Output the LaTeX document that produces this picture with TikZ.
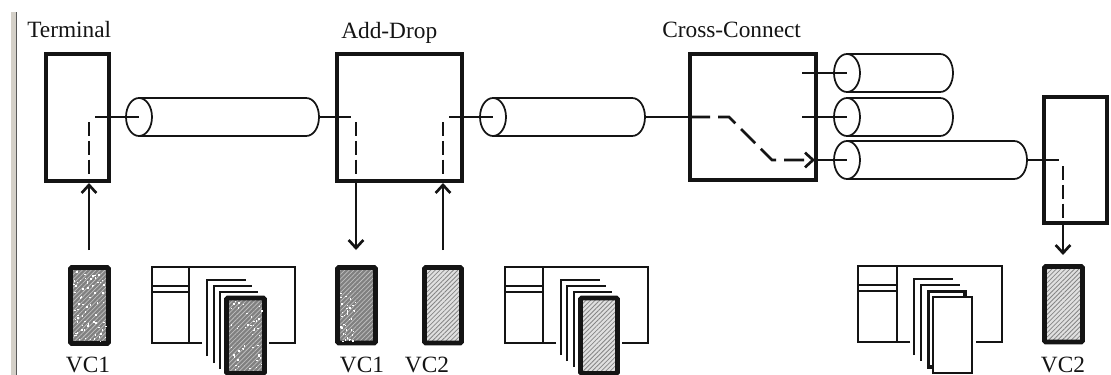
\documentclass[tikz,border=0pt]{standalone}
\usepackage{fontspec}
\setmainfont{Liberation Serif}
\usetikzlibrary{arrows.meta,patterns.meta}
\definecolor{barcol}{HTML}{D4D0C8}
\definecolor{inkcol}{HTML}{141414}
\tikzset{
  px/.style={x=0.75pt,y=-0.75pt},
  heavy/.style={draw=inkcol,line width=2.5pt,inner sep=0pt,outer sep=0pt,fill=white},
  wire/.style={draw=inkcol,line width=1.3pt},
  dashwire/.style={draw=inkcol,line width=1.4pt,dash pattern=on 10.5pt off 3.6pt},
  crossdash/.style={draw=inkcol,line width=1.9pt,dash pattern=on 15pt off 6pt},
  tip/.style={-{Straight Barb[length=6pt,width=11pt,line width=2pt]}},
  lbl/.style={anchor=base,inner sep=0pt,text=inkcol,font=\fontsize{17.5}{20}\selectfont},
  dark/.style={draw=inkcol,line width=3.4pt,inner sep=0pt,outer sep=0pt,rounded corners=0.8pt,
    preaction={fill=black!50},pattern={Lines[angle=45,distance=2.4pt,line width=0.55pt]},pattern color=black!25},
  light/.style={draw=inkcol,line width=3.4pt,inner sep=0pt,outer sep=0pt,rounded corners=0.8pt,
    preaction={fill=black!12},pattern={Lines[angle=45,distance=2.4pt,line width=0.6pt]},pattern color=black!48},
}
\newcommand{\bx}[6]{\node[#6,minimum width={(#4-#2)*0.75pt},minimum height={(#5-#3)*0.75pt}] (#1) at ({(#2+#4)/2},{(#3+#5)/2}) {};}
\newcommand{\speck}[5]{\foreach \i in {1,...,#5}{%
  \pgfmathsetmacro{\sx}{#1+rnd*(#3-#1)}\pgfmathsetmacro{\sy}{#2+rnd*(#4-#2)}%
  \fill[white] (\sx,\sy) rectangle +(1.5,1.5);}}
\newcommand{\cyl}[4]{%
  \coordinate (#1-l) at (#2,#3);
  \coordinate (#1-r) at (#4,#3);
  \draw[wire] (#2,#3-19) -- (#4-13,#3-19) .. controls (#4-5,#3-19) and (#4,#3-10) .. (#4,#3)
     .. controls (#4,#3+10) and (#4-5,#3+19) .. (#4-13,#3+19) -- (#2,#3+19);
  \draw[wire,fill=white] (#1-l) ellipse [x radius=13,y radius=19];}
\newcommand{\frm}[7]{% x0 xin x1 y0 y1 gap0 gap1
  \draw[wire] (#6,#5) -- (#1,#5) -- (#1,#4) -- (#3,#4) -- (#3,#5) -- (#7,#5);
  \draw[wire] (#2,#4) -- (#2,#5);
  \draw[wire] (#1,#4+19) -- (#2,#4+19) (#1,#4+25) -- (#2,#4+25);}
\newcommand{\lsh}[4]{\draw[draw=inkcol,line width=1.6pt] (#1,#4) -- (#1,#2) -- (#3,#2);}
\begin{document}
\begin{tikzpicture}[px]
\useasboundingbox (0,0) rectangle (1111,375);
\fill[barcol] (10.5,12) rectangle (15.5,375);
\draw[draw=black!65,line width=1pt] (16.5,12) -- (16.5,375);
\pgfmathsetseed{7}

% cylinders
\cyl{ca}{139}{117}{319}
\cyl{cb}{493}{117}{645}
\cyl{cc}{847}{73}{953}
\cyl{cd}{847}{117}{953}
\cyl{ce}{847}{160}{1027}

% equipment boxes
\bx{term}{46}{54}{109}{181}{heavy}
\bx{add}{337}{54}{462}{181}{heavy}
\bx{cross}{690}{54}{816}{180}{heavy}
\bx{endbox}{1044}{97}{1107}{223}{heavy}

% free ends inside the boxes
\coordinate (t1) at (95,117);
\coordinate (t2) at (89,122);
\coordinate (t3) at (89,176);
\coordinate (t4) at (89,183);
\coordinate (a1) at (351,117);
\coordinate (a2) at (356,122);
\coordinate (a3) at (356,176);
\coordinate (a4) at (356,181);
\coordinate (b1) at (449,117);
\coordinate (b2) at (443,122);
\coordinate (b3) at (443,176);
\coordinate (b4) at (443,183);
\coordinate (x0) at (690,117);
\coordinate (x1) at (729,117);
\coordinate (x2) at (772,160);
\coordinate (x3) at (815,160);
\coordinate (x4) at (802,73);
\coordinate (x5) at (802,117);
\coordinate (e1) at (1059,160);
\coordinate (e2) at (1063,166);
\coordinate (e3) at (1063,220);
\coordinate (e4) at (1063,223);
\coordinate (s1) at (89,250);
\coordinate (s2) at (356,250);
\coordinate (s3) at (443,250);
\coordinate (s4) at (1063,255);

% payload blocks
\bx{va}{70.5}{267.5}{108.5}{343.5}{dark}
\speck{73}{270}{106}{341}{70}
\bx{vb}{337.5}{267.5}{375.5}{343}{dark}
\speck{340}{290}{355}{341}{40}
\bx{vc}{424.5}{267.5}{461.5}{343}{light}
\bx{vd}{1044.5}{266.5}{1082.5}{342}{light}

% frames and stacks
\frm{152}{189}{295}{267}{343}{202}{269}
\lsh{207}{280}{246}{356}
\lsh{214}{286}{252}{363}
\lsh{220}{292}{258}{369}
\bx{fa}{226.5}{298}{264.5}{373.5}{dark}
\speck{229}{300}{262}{371}{45}

\frm{505}{543}{648}{267}{343}{556}{622}
\lsh{561}{280}{600}{355}
\lsh{567}{286}{606}{361}
\lsh{574}{292}{612}{367}
\bx{fb}{580.5}{298}{617.5}{373.5}{light}

\frm{858}{897}{1002}{266}{342}{910}{976}
\lsh{914}{279}{953}{355}
\lsh{921}{285}{960}{361}
\bx{fc}{928.5}{291.5}{965}{367}{heavy}
\bx{fd}{933}{297}{972}{373}{wire,fill=white,inner sep=0pt,outer sep=0pt}

% connectors
\draw[wire] (t1) -- (ca-l);
\draw[wire] (ca-r) -- (a1);
\draw[wire] (b1) -- (cb-l);
\draw[wire] (cb-r) -- (x0);
\draw[wire] (x4) -- (cc-l);
\draw[wire] (x5) -- (cd-l);
\draw[wire] (x3) -- (ce-l);
\draw[wire] (ce-r) -- (e1);
\draw[dashwire] (t2) -- (t3);
\draw[dashwire] (a2) -- (a3);
\draw[dashwire] (b2) -- (b3);
\draw[dashwire] (e2) -- (e3);
\draw[crossdash,tip] (x0) -- (x1) -- (x2) -- (x3);
\draw[wire,tip] (s1) -- (t4);
\draw[wire,tip] (a4) -- (s2);
\draw[wire,tip] (s3) -- (b4);
\draw[wire,tip] (e4) -- (s4);

% labels
\node[lbl,anchor=base west] (lt) at (27,37) {Terminal};
\node[lbl,anchor=base west] (la) at (341,38) {Add-Drop};
\node[lbl,anchor=base west] (lc) at (662,37) {Cross-Connect};
\node[lbl] (l1) at (88,372) {VC1};
\node[lbl] (l2) at (362,372) {VC1};
\node[lbl] (l3) at (427,372) {VC2};
\node[lbl] (l4) at (1063,372) {VC2};
\end{tikzpicture}
\end{document}
